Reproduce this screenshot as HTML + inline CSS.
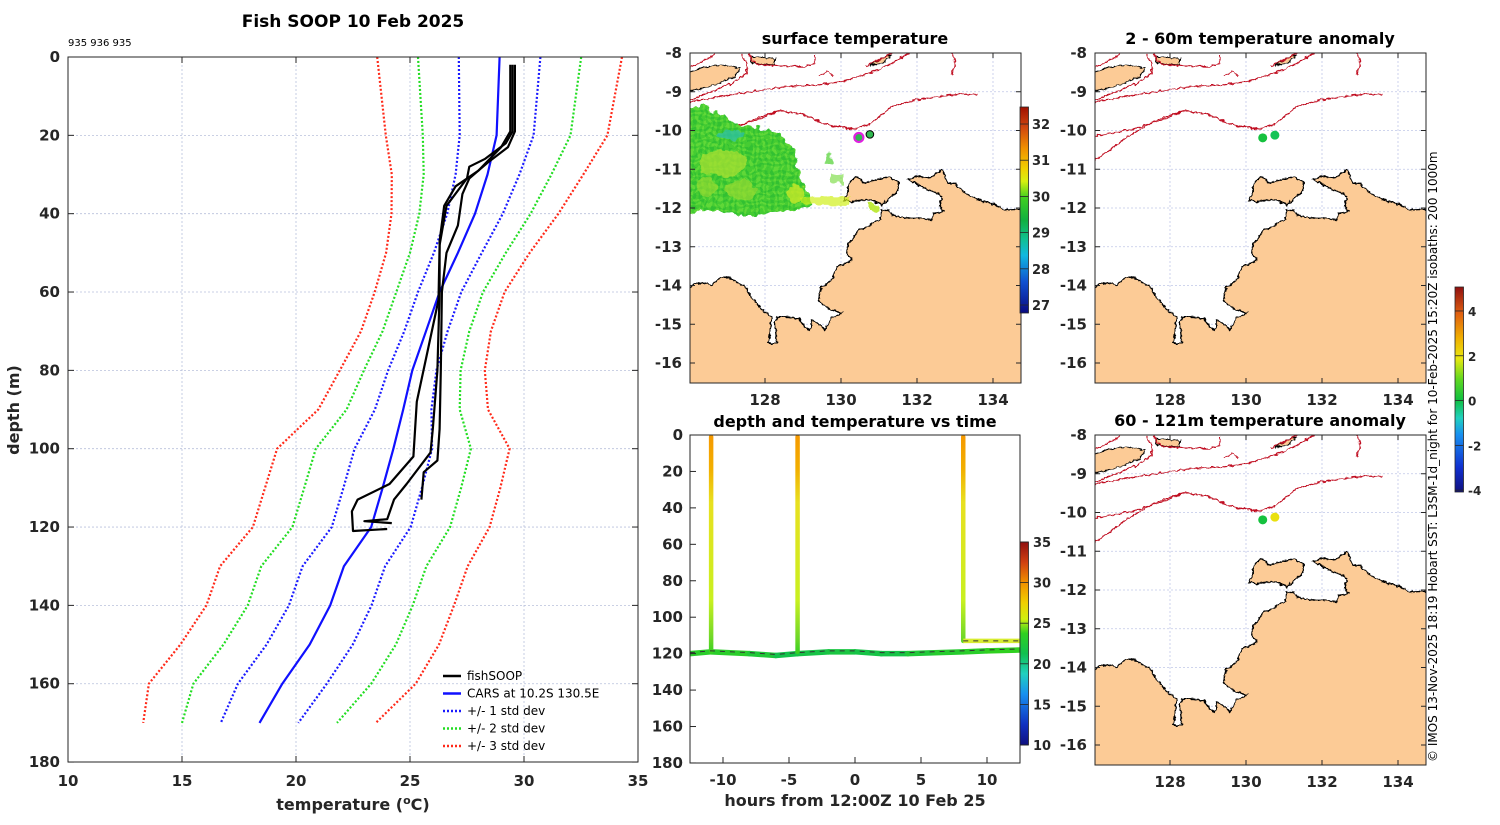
<!DOCTYPE html>
<html><head><meta charset="utf-8"><style>
html,body{margin:0;padding:0;background:#fff;}
svg text{font-family:"DejaVu Sans","Liberation Sans",sans-serif;}
</style></head><body>
<svg id="fig" xmlns="http://www.w3.org/2000/svg" width="1500" height="820" viewBox="0 0 1500 820">
<defs>
<linearGradient id="jetSST" x1="0" y1="1" x2="0" y2="0">
<stop offset="0" stop-color="#0a0a80"/><stop offset="0.15" stop-color="#1050d0"/><stop offset="0.28" stop-color="#10b8e0"/><stop offset="0.36" stop-color="#10c090"/><stop offset="0.45" stop-color="#10b040"/><stop offset="0.56" stop-color="#40d020"/><stop offset="0.64" stop-color="#d8f010"/><stop offset="0.7" stop-color="#f0d000"/><stop offset="0.8" stop-color="#f09000"/><stop offset="0.9" stop-color="#d04810"/><stop offset="1" stop-color="#a01000"/>
</linearGradient>
<linearGradient id="jetT" x1="0" y1="1" x2="0" y2="0">
<stop offset="0" stop-color="#10107f"/><stop offset="0.1" stop-color="#1030c0"/><stop offset="0.25" stop-color="#1890f0"/><stop offset="0.35" stop-color="#20d0c0"/><stop offset="0.45" stop-color="#10c050"/><stop offset="0.55" stop-color="#30d020"/><stop offset="0.62" stop-color="#d0f010"/><stop offset="0.7" stop-color="#f0d000"/><stop offset="0.8" stop-color="#f09000"/><stop offset="0.9" stop-color="#d04010"/><stop offset="1" stop-color="#901010"/>
</linearGradient>
<linearGradient id="jetA" x1="0" y1="1" x2="0" y2="0">
<stop offset="0" stop-color="#10107f"/><stop offset="0.12" stop-color="#1030d0"/><stop offset="0.28" stop-color="#1890f0"/><stop offset="0.36" stop-color="#20d0c0"/><stop offset="0.45" stop-color="#10c040"/><stop offset="0.55" stop-color="#60d820"/><stop offset="0.65" stop-color="#e8e810"/><stop offset="0.75" stop-color="#f0b000"/><stop offset="0.87" stop-color="#e06010"/><stop offset="1" stop-color="#901010"/>
</linearGradient>
<linearGradient id="castGrad" gradientUnits="userSpaceOnUse" x1="0" y1="437" x2="0" y2="655">
<stop offset="0" stop-color="#f59a00"/><stop offset="0.15" stop-color="#f2b000"/><stop offset="0.3" stop-color="#e8e020"/><stop offset="0.75" stop-color="#c8f020"/><stop offset="0.92" stop-color="#70d828"/><stop offset="1" stop-color="#30d020"/>
</linearGradient>
<clipPath id="mapclip"><rect x="0" y="0" width="331" height="330"/></clipPath>
<clipPath id="tclip"><rect x="690" y="435" width="330" height="328"/></clipPath>
<filter id="rough" x="-10%" y="-10%" width="120%" height="120%">
<feTurbulence type="fractalNoise" baseFrequency="0.12" numOctaves="2" seed="3" result="n"/>
<feDisplacementMap in="SourceGraphic" in2="n" scale="10" xChannelSelector="R" yChannelSelector="G"/>
</filter>
<filter id="jag" x="-5%" y="-5%" width="110%" height="110%">
<feTurbulence type="fractalNoise" baseFrequency="0.25" numOctaves="2" seed="7" result="n"/>
<feDisplacementMap in="SourceGraphic" in2="n" scale="4" xChannelSelector="R" yChannelSelector="G"/>
</filter>
<pattern id="speck" width="6" height="6" patternUnits="userSpaceOnUse">
<rect width="6" height="6" fill="#44cc30"/><rect x="0" y="0" width="3" height="3" fill="#60d838"/><rect x="3" y="3" width="3" height="3" fill="#30c030"/>
</pattern>
</defs>
</svg>
<script>
// ---------- profile data ----------
const depths=[0,20,30,40,50,60,70,80,90,100,110,120,130,140,150,160,170];
const carsMean=[28.93,28.8,28.4,27.85,27.1,26.3,25.7,25.1,24.7,24.27,23.8,23.3,22.1,21.5,20.6,19.4,18.4];
const carsStd=[1.79,1.62,1.4,1.22,1.05,0.95,0.95,1.06,1.24,1.7,1.72,1.73,1.81,1.81,1.89,1.95,1.70];
const p1T=[29.6,29.6,29.3,28.4,27.6,27.3,27.1,26.6,26.4,26.35,26.3,26.2,25.6,25.5];
const p1D=[2,19,23,27,31,35,43,50,60,80,95,103,106,113];
const p2T=[29.5,29.5,29.2,28.3,27.6,27.5,26.6,26.3,26.25,25.7,25.3,25.15,24.1,22.7,22.45,22.5,24.0];
const p2D=[2,19,22,26,28,31,38,48,62,77,88,102,109,113,116,121,120.5];
const p3T=[29.4,29.4,29.0,28.0,27.0,26.5,26.3,26.3,26.2,26.0,25.9,24.85,24.3,24.0,23.0,24.2];
const p3D=[2,19,23,29,33,38,47,60,80,95,101,109,113,118,118.5,119];
const tempTicks=[10,15,20,25,30,35];
const depthTicks=[0,20,40,60,80,100,120,140,160,180];
// ---------- time plot data ----------
const castHours=[-10.9,-4.35,8.2];
const castBottom=[119,119,113];
const trackHours=[-12.5,-10.9,-8,-6,-4.35,-2,0,2,4,6,8.2,10,12.5];
const trackDepth=[120,119,120,121,120,119,119,120,120,119.5,119,118.5,118];
const trackTemp=[23.5,23,23.5,21.5,21.5,22,22,21.5,22,23,23,23.5,24];
const hourTicks=[-10,-5,0,5,10];
// ---------- map data ----------
const latTicks=[-8,-9,-10,-11,-12,-13,-14,-15,-16];
const lonTicks=[128,130,132,134];
const sstTicks=[27,28,29,30,31,32];
const anomTicks=[-4,-2,0,2,4];
const tTicks=[10,15,20,25,30,35];
const sstDotLon=[130.47,130.76], sstDotLat=[-10.18,-10.10];
const anomDotLon=[130.44,130.76], anomDotLat=[-10.19,-10.12];
const anom1Vals=[0.1,-0.1], anom2Vals=[0.1,2.0];

const NS='http://www.w3.org/2000/svg';
const svg=document.getElementById('fig');
function el(tag,attrs,parent){const e=document.createElementNS(NS,tag);for(const k in attrs)e.setAttribute(k,attrs[k]);(parent||svg).appendChild(e);return e;}
function txt(s,x,y,size,anchor,weight,parent){const t=el('text',{x:x,y:y,'font-size':size,'text-anchor':anchor||'middle','font-weight':weight||'bold',fill:'#262626'},parent);t.textContent=s;return t;}
const dark='#262626';

// ================= LEFT PROFILE PANEL =================
const X=t=>68+(t-10)*22.8, Y=d=>57+d*3.917;
const gL=el('g',{});


tempTicks.forEach(t=>{if(t>10&&t<35){const l=el('line',{x1:X(t),x2:X(t),y1:57,y2:762,stroke:'#b8c0dc','stroke-width':0.8,'stroke-dasharray':'2,2'},gL);}});
depthTicks.forEach(d=>{if(d>0&&d<180){const l=el('line',{x1:68,x2:638,y1:Y(d),y2:Y(d),stroke:'#b8c0dc','stroke-width':0.8,'stroke-dasharray':'2,2'},gL);}});
function poly(ts,ds,color,w,dash,name){const pts=ts.map((t,i)=>X(t).toFixed(1)+','+Y(ds[i]).toFixed(1)).join(' ');const p=el('polyline',{points:pts,fill:'none',stroke:color,'stroke-width':w,'stroke-linejoin':'round'},gL);if(dash)p.setAttribute('stroke-dasharray',dash);return p;}
const sdCols={1:'#1a1aff',2:'#22dd22',3:'#ff2a1a'};
[3,2,1].forEach(k=>{
  poly(carsMean.map((m,i)=>m-k*carsStd[i]),depths,sdCols[k],2.2,'2,2','std-'+k+'-lower');
  poly(carsMean.map((m,i)=>m+k*carsStd[i]),depths,sdCols[k],2.2,'2,2','std-'+k+'-upper');
});
poly(carsMean,depths,'#1010ff',2.2,null,'cars-mean-line');
poly(p1T,p1D,'#000',2.2,null,'fishsoop-profile-1');
poly(p2T,p2D,'#000',2.2,null,'fishsoop-profile-2');
poly(p3T,p3D,'#000',2.2,null,'fishsoop-profile-3');
const fr=el('rect',{x:68,y:57,width:570,height:705,fill:'none',stroke:dark,'stroke-width':1},gL);


tempTicks.forEach(t=>{el('line',{x1:X(t),x2:X(t),y1:57,y2:63,stroke:dark},gL);el('line',{x1:X(t),x2:X(t),y1:762,y2:756,stroke:dark},gL);const s=txt(String(t),X(t),786,15,'middle','bold',gL);});
depthTicks.forEach(d=>{el('line',{x1:68,x2:74,y1:Y(d),y2:Y(d),stroke:dark},gL);el('line',{x1:638,x2:632,y1:Y(d),y2:Y(d),stroke:dark},gL);const s=txt(String(d),60,Y(d)+5,15,'end','bold',gL);});
let tt=txt('Fish SOOP 10 Feb 2025',353,27,17,'middle','bold',gL);tt.setAttribute('fill','#000');


tt=txt('935 936 935',68,46,10,'start','normal',gL);tt.setAttribute('fill','#000');


tt=el('text',{x:353,y:810,'font-size':16,'font-weight':'bold','text-anchor':'middle',fill:dark},gL);
tt.innerHTML='temperature (<tspan dy="-6" font-size="11">o</tspan><tspan dy="6">C)</tspan>';


tt=txt('depth (m)',0,0,16,'middle','bold',gL);tt.setAttribute('transform','translate(19,410) rotate(-90)');


// legend
const legItems=[['fishSOOP','#000',null],['CARS at 10.2S 130.5E','#1010ff',null],['+/- 1 std dev','#1a1aff','2,2'],['+/- 2 std dev','#22dd22','2,2'],['+/- 3 std dev','#ff2a1a','2,2']];
const gLeg=el('g',{},gL);


legItems.forEach((it,i)=>{const y=676+i*17.5;const l=el('line',{x1:443,x2:461,y1:y,y2:y,stroke:it[1],'stroke-width':2.4},gLeg);if(it[2])l.setAttribute('stroke-dasharray',it[2]);const s=txt(it[0],467,y+4,12,'start','normal',gLeg);s.setAttribute('fill','#000');});

// ================= MAPS =================
const mainland=[[1005,178],[960,180],[920,160],[880,150],[840,130],[810,100],[790,100],[770,60],[750,75],[730,85],[700,78],[670,88],[700,105],[730,120],[760,130],[770,140],[765,170],[775,185],[745,190],[740,210],[700,205],[660,205],[620,195],[612,180],[590,180],[585,210],[570,215],[550,230],[520,240],[500,270],[490,280],[485,310],[500,330],[470,345],[455,350],[445,380],[430,400],[410,410],[400,450],[420,470],[440,480],[470,490],[440,505],[420,540],[400,520],[380,510],[375,540],[360,530],[340,505],[300,500],[280,500],[270,520],[275,580],[250,580],[255,545],[260,500],[230,480],[200,440],[180,410],[160,400],[130,380],[100,385],[80,405],[60,400],[30,400],[15,410],[0,420]];
const melville=[[475,150],[490,130],[490,100],[515,80],[540,100],[570,90],[610,80],[640,95],[640,120],[620,140],[590,165],[560,150],[530,150],[500,155]];
const timor=[[0,70],[60,50],[120,45],[165,55],[150,80],[100,100],[50,115],[0,128]];
const islands=[[[195,20],[270,25],[270,45],[200,40]],[[555,45],[600,20],[620,15],[590,40]]];
const iso=[
 [[15,330],[60,300],[110,262],[200,210],[280,182],[350,192],[430,225],[500,237],[550,225],[620,170],[690,150],[760,140],[830,132],[875,135]],
 [[15,258],[120,240],[230,205],[280,183]],
 [[15,155],[100,140],[200,125],[300,110],[400,105],[470,95],[520,80],[580,60],[620,40],[660,15],[690,0]],
 [[15,150],[80,125],[150,95],[185,70],[185,40],[170,15]],
 [[190,12],[210,42],[280,48],[360,50],[390,40],[390,12]],
 [[400,78],[430,65],[445,78]],[[540,48],[600,22],[625,5]],[[800,75],[812,40],[800,10]],[[0,60],[40,40],[80,20],[100,0]]
];
const c5=p=>(p[0]/3-5).toFixed(1)+','+(p[1]/3+97).toFixed(1);
const c3=p=>(p[0]/3-5).toFixed(1)+','+(p[1]/3-3).toFixed(1);
const lonX=lon=>75+(lon-128)*38, latY=lat=>(-8-lat)*38.75;

function drawMap(ox,oy,title,name,drawContent){
  const g=el('g',{transform:`translate(${ox},${oy})`});
  
  
  const inner=el('g',{'clip-path':'url(#mapclip)'},g);
  lonTicks.forEach(l=>el('line',{x1:lonX(l),x2:lonX(l),y1:0,y2:330,stroke:'#c0c8e8','stroke-width':0.8,'stroke-dasharray':'2,2'},inner));
  latTicks.forEach(l=>el('line',{x1:0,x2:331,y1:latY(l),y2:latY(l),stroke:'#c0c8e8','stroke-width':0.8,'stroke-dasharray':'2,2'},inner));
  const jg=el('g',{filter:'url(#jag)'},inner);
  const land=el('path',{d:'M'+mainland.map(c5).join(' L')+' L-5,340 L340,340 L340,'+(178/3+97)+' Z',fill:'#fccb96',stroke:'#000','stroke-width':1.3},jg);
  
  
  const mel=el('path',{d:'M'+melville.map(c5).join(' L')+' Z',fill:'#fccb96',stroke:'#000','stroke-width':1.3},jg);
  
  
  el('path',{d:'M'+timor.map(c3).join(' L')+' Z',fill:'#fccb96',stroke:'#000','stroke-width':1},jg);
  islands.forEach(is=>el('path',{d:'M'+is.map(c3).join(' L')+' Z',fill:'#fccb96',stroke:'#000','stroke-width':1},jg));
  iso.forEach(ln=>{const p=el('polyline',{points:ln.map(c3).join(' '),fill:'none',stroke:'#c01020','stroke-width':1.2},jg);});
  drawContent(inner);
  el('rect',{x:0,y:0,width:331,height:330,fill:'none',stroke:dark,'stroke-width':1},g);
  latTicks.forEach(l=>{el('line',{x1:0,x2:5,y1:latY(l),y2:latY(l),stroke:dark},g);el('line',{x1:331,x2:326,y1:latY(l),y2:latY(l),stroke:dark},g);const s=txt(String(l),-8,latY(l)+5,15,'end','bold',g);});
  lonTicks.forEach(l=>{el('line',{x1:lonX(l),x2:lonX(l),y1:0,y2:5,stroke:dark},g);el('line',{x1:lonX(l),x2:lonX(l),y1:330,y2:325,stroke:dark},g);const s=txt(String(l),lonX(l),352,15,'middle','bold',g);});
  const t=txt(title,165,-9,16,'middle','bold',g);t.setAttribute('fill','#000');
  
  
  return g;
}
function anomColor(v){const f=(v+4.07)/9.14;const st=[[0,[16,16,127]],[0.12,[16,48,208]],[0.28,[24,144,240]],[0.36,[32,208,192]],[0.45,[16,192,64]],[0.55,[96,216,32]],[0.65,[232,232,16]],[0.75,[240,176,0]],[0.87,[224,96,16]],[1,[144,16,16]]];for(let i=1;i<st.length;i++){if(f<=st[i][0]){const a=st[i-1],b=st[i],r=(f-a[0])/(b[0]-a[0]);return 'rgb('+a[1].map((c,j)=>Math.round(c+(b[1][j]-c)*r)).join(',')+')';}}return 'rgb(144,16,16)';}

// Map 1: surface temperature
drawMap(690,53,'surface temperature','surface-temperature-map',inner=>{
  const z1=p=>(p[0]/3-50).toFixed(1)+','+(p[1]/3-23).toFixed(1);
  const blob=[[140,235],[190,228],[240,250],[280,280],[330,290],[400,300],[440,330],[470,380],[480,440],[500,480],[510,530],[470,540],[420,545],[360,555],[300,555],[250,550],[200,540],[140,545]];
  const fg=el('g',{filter:'url(#rough)'},inner);
  const b=el('path',{d:'M'+blob.map(z1).join(' L')+' Z',fill:'url(#speck)'},fg);
  
  
  el('ellipse',{cx:250/3-50,cy:400/3-23,rx:24,ry:14,fill:'#a8e030',opacity:0.75},fg);
  el('ellipse',{cx:300/3-50,cy:480/3-23,rx:16,ry:9,fill:'#98dc30',opacity:0.7},fg);
  el('ellipse',{cx:200/3-50,cy:470/3-23,rx:10,ry:10,fill:'#a0dc30',opacity:0.6},fg);
  el('ellipse',{cx:470/3-50,cy:490/3-23,rx:9,ry:9,fill:'#c8e828',opacity:0.8},fg);
  el('ellipse',{cx:270/3-50,cy:315/3-23,rx:14,ry:5,fill:'#30c0a0',opacity:0.8},fg);
  el('rect',{x:480/3-50,y:505/3-23,width:50,height:6,fill:'#d0f020',opacity:0.7},fg);
  el('rect',{x:560/3-50,y:370/3-23,width:6,height:10,fill:'#50d030',opacity:0.7},fg);
  el('rect',{x:570/3-50,y:430/3-23,width:14,height:10,fill:'#70d830',opacity:0.6},fg);
  el('rect',{x:690/3-50,y:520/3-23,width:8,height:8,fill:'#b8e828',opacity:0.9},fg);
  sstDotLon.forEach((lon,i)=>{const c=el('circle',{cx:lonX(lon),cy:latY(sstDotLat[i]),r:i==0?4.5:3.8,fill:'#30b850',stroke:i==0?'#e020e0':'#000','stroke-width':i==0?2.2:1},inner);});
});
(function(){const g=el('g',{});
el('rect',{x:1020,y:107,width:8.5,height:206,fill:'url(#jetSST)',stroke:dark,'stroke-width':0.8},g);
const cy=v=>107+(32.47-v)*36.2;
sstTicks.forEach(v=>{el('line',{x1:1020,x2:1028.5,y1:cy(v),y2:cy(v),stroke:dark,'stroke-width':0.8},g);const s=txt(String(v),1032,cy(v)+5,13,'start','bold',g);});})();

drawMap(1095,53,'2 - 60m temperature anomaly','anomaly-2-60m-map',inner=>{
  anomDotLon.forEach((lon,i)=>{const c=el('circle',{cx:lonX(lon),cy:latY(anomDotLat[i]),r:4.5,fill:anomColor(anom1Vals[i])},inner);});
});
drawMap(1095,435,'60 - 121m temperature anomaly','anomaly-60-121m-map',inner=>{
  anomDotLon.forEach((lon,i)=>{const c=el('circle',{cx:lonX(lon),cy:latY(anomDotLat[i]),r:4.5,fill:anomColor(anom2Vals[i])},inner);});
});
(function(){const g=el('g',{});
el('rect',{x:1455,y:287,width:8.5,height:205,fill:'url(#jetA)',stroke:dark,'stroke-width':0.8},g);
const cy=v=>287+(5.07-v)*22.4;
anomTicks.forEach(v=>{el('line',{x1:1455,x2:1463.5,y1:cy(v),y2:cy(v),stroke:dark,'stroke-width':0.8},g);const s=txt(String(v),1468,cy(v)+5,12,'start','bold',g);});})();

// ================= TIME PLOT =================
(function(){
const g=el('g',{});
const HX=h=>855+h*13.2, DY=d=>435+d*1.822;
const inner=el('g',{'clip-path':'url(#tclip)'},g);
const tcol=v=>{const f=(v-10)/25;const st=[[0,[16,16,127]],[0.1,[16,48,192]],[0.25,[24,144,240]],[0.35,[32,208,192]],[0.45,[16,192,80]],[0.55,[48,208,32]],[0.62,[208,240,16]],[0.7,[240,208,0]],[0.8,[240,144,0]],[0.9,[208,64,16]],[1,[144,16,16]]];for(let i=1;i<st.length;i++){if(f<=st[i][0]){const a=st[i-1],b=st[i],r=(f-a[0])/(b[0]-a[0]);return 'rgb('+a[1].map((c,j)=>Math.round(c+(b[1][j]-c)*r)).join(',')+')';}}return 'rgb(144,16,16)';};
for(let i=0;i<trackHours.length-1;i++){const s=el('line',{x1:HX(trackHours[i]),y1:DY(trackDepth[i]),x2:HX(trackHours[i+1]),y2:DY(trackDepth[i+1]),stroke:tcol((trackTemp[i]+trackTemp[i+1])/2),'stroke-width':5.5,'stroke-linecap':'round'},inner);}
castHours.forEach((h,i)=>{const c=el('line',{x1:HX(h),x2:HX(h),y1:DY(1),y2:DY(castBottom[i]),stroke:'url(#castGrad)','stroke-width':4.5,'stroke-linecap':'round'},inner);});
const lastH=castHours[castHours.length-1], lastD=castBottom[castBottom.length-1];
const hl=el('line',{x1:HX(lastH),x2:HX(12.5),y1:DY(lastD),y2:DY(lastD),stroke:'#d8ec30','stroke-width':4.5},inner);


el('line',{x1:HX(lastH),x2:HX(12.5),y1:DY(lastD),y2:DY(lastD),stroke:'#333','stroke-width':1,'stroke-dasharray':'5,5'},inner);
el('polyline',{points:trackHours.map((h,i)=>HX(h)+','+(DY(trackDepth[i])-1)).join(' '),fill:'none',stroke:'#333','stroke-width':1,'stroke-dasharray':'5,5'},inner);
el('rect',{x:690,y:435,width:330,height:328,fill:'none',stroke:dark,'stroke-width':1},g);
hourTicks.forEach(h=>{el('line',{x1:HX(h),x2:HX(h),y1:763,y2:757,stroke:dark},g);const s=txt(String(h),HX(h),785,15,'middle','bold',g);});
depthTicks.forEach(d=>{el('line',{x1:690,x2:696,y1:DY(d),y2:DY(d),stroke:dark},g);const s=txt(String(d),683,DY(d)+5,15,'end','bold',g);});
let t=txt('depth and temperature vs time',855,427,16,'middle','bold',g);t.setAttribute('fill','#000');


t=txt('hours from 12:00Z 10 Feb 25',855,806,16,'middle','bold',g);


el('rect',{x:1020,y:542,width:8.5,height:203,fill:'url(#jetT)',stroke:dark,'stroke-width':0.8},g);
const cy=v=>542+(35-v)*8.12;
tTicks.forEach(v=>{el('line',{x1:1020,x2:1028.5,y1:cy(v),y2:cy(v),stroke:dark,'stroke-width':0.8},g);const s=txt(String(v),1033,cy(v)+5,13,'start','bold',g);});
})();

const cr=txt('© IMOS 13-Nov-2025 18:19 Hobart SST: L3SM-1d_night for 10-Feb-2025 15:20Z isobaths: 200  1000m',0,0,12,'start','normal');
cr.setAttribute('transform','translate(1437,762) rotate(-90)');
cr.setAttribute('fill','#000');
cr.setAttribute('xml:space','preserve');


</script>
</body></html>
